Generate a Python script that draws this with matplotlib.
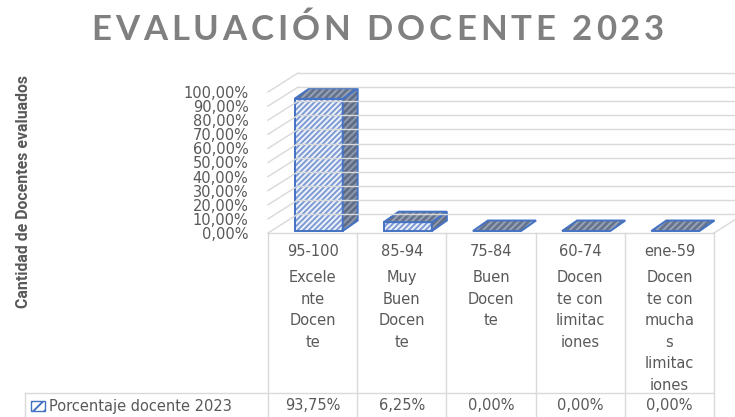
import matplotlib
matplotlib.use('Agg')
import matplotlib.pyplot as plt
from matplotlib.patches import Polygon
from matplotlib.lines import Line2D
from matplotlib.transforms import IdentityTransform
from matplotlib.font_manager import FontProperties
import numpy as np

W, H = 735, 417

rangos = ['95-100', '85-94', '75-84', '60-74', 'ene-59']
niveles = ['Excele\nnte\nDocen\nte',
           'Muy\nBuen\nDocen\nte',
           'Buen\nDocen\nte',
           'Docen\nte con\nlimitac\niones',
           'Docen\nte con\nmucha\ns\nlimitac\niones']
porcentaje = [0.9375, 0.0625, 0.0, 0.0, 0.0]
serie = 'Porcentaje docente 2023'
titulo = 'EVALUACIÓN DOCENTE 2023'
eje_y = 'Cantidad de Docentes evaluados'
yticks = np.arange(0, 1.001, 0.1)

GRIS = '#595959'
LINEA = '#d9d9d9'
AZUL = '#4472c4'

plt.rcParams['hatch.linewidth'] = 1.4


def pct(v):
    return f'{v * 100:.2f}%'.replace('.', ',')


def fxy(x, y):
    # pixel desde arriba-izquierda -> fraccion de figura
    return x / W, 1 - y / H


fig = plt.figure(figsize=(W / 100, H / 100), dpi=100)
rend = fig.canvas.get_renderer()
x0, y0 = fxy(268, 233)
x1, y1 = fxy(714, 92)
ax = fig.add_axes([x0, y0, x1 - x0, y1 - y0])
ax.set_xlim(-0.5, len(rangos) - 0.5)
ax.set_ylim(0, 1)
for s in ax.spines.values():
    s.set_visible(False)
ax.patch.set_visible(False)
ax.set_xticks([])
ax.set_yticks(yticks)
ax.set_yticklabels([pct(v) for v in yticks])
ax.tick_params(axis='y', length=0, pad=14, labelsize=10.5, labelcolor=GRIS)

ident = IdentityTransform()


def d(x, y):
    return ax.transData.transform((x, y))


def linea(xs, ys, color=LINEA, lw=1.0):
    ax.add_line(Line2D(xs, ys, transform=ident, color=color, lw=lw, clip_on=False))


def cara(pts, fc, hc, hatch='/////', lw=1.4):
    ax.add_patch(Polygon(pts, closed=True, transform=ident, facecolor=fc,
                         edgecolor=hc, lw=0, hatch=hatch, clip_on=False))
    ax.add_patch(Polygon(pts, closed=True, transform=ident, fill=False,
                         edgecolor=AZUL, lw=lw, joinstyle='miter', clip_on=False))


# paredes y piso (perspectiva)
DX, DY = 30, 19
xl, yb = d(-0.5, 0)
xr, _ = d(len(rangos) - 0.5, 0)
for v in yticks:
    _, yv = d(0, v)
    linea([xl, xl + DX], [yv, yv + DY])
    linea([xl + DX, xr + DX], [yv + DY, yv + DY])
linea([xl, xr], [yb, yb])
linea([xr, xr + DX], [yb, yb + DY])

# barras 3D
FX, FY = 6, 2
BX, BY = 15, 10.5
bw = 0.54
for i, v in enumerate(porcentaje):
    ax0, ab = d(i - bw / 2, 0)
    ax1, at = d(i + bw / 2, v)
    fx0, fx1 = ax0 + FX, ax1 + FX
    fb, ft = ab + FY, at + FY
    if v > 0:
        cara([(fx0, fb), (fx1, fb), (fx1, ft), (fx0, ft)], '#eef3fb', '#7d9ad3', '//////')
        cara([(fx1, fb), (fx1 + BX, fb + BY), (fx1 + BX, ft + BY), (fx1, ft)],
             '#5f6c85', '#8d98ad')
    cara([(fx0, ft), (fx1, ft), (fx1 + BX, ft + BY), (fx0 + BX, ft + BY)],
         '#66738c', '#97a2b6')

# tabla de datos
bordes = [d(i - 0.5, 0)[0] for i in range(len(rangos) + 1)]
for bx in bordes:
    linea([bx, bx], [H - 233, 0])
linea([25, xr], [H - 393, H - 393])
linea([25, 25], [H - 393, 0])

for i, (r, n, v) in enumerate(zip(rangos, niveles, porcentaje)):
    cx = d(i, 0)[0] / W
    fig.text(cx, 1 - 251 / H, r, ha='center', va='center', fontsize=10.5, color=GRIS)
    fig.text(cx, 1 - 270 / H, n, ha='center', va='top', fontsize=10.5, color=GRIS,
             linespacing=1.55)
    fig.text(cx, 1 - 406 / H, pct(v), ha='center', va='center', fontsize=10.5, color=GRIS)

# clave de leyenda
kx, ky = 31, H - 411
clave = [(kx, ky), (kx + 14, ky), (kx + 14, ky + 10), (kx, ky + 10)]
cara(clave, 'white', AZUL, '///', lw=1.0)
fig.text(49 / W, 1 - 406 / H, serie, ha='left', va='center', fontsize=10.5, color=GRIS)

# titulo con espaciado entre letras
tprop = FontProperties(family=['Lato', 'DejaVu Sans'], weight='bold', size=25)
anchos = [rend.get_text_width_height_descent(c, tprop, ismath=False)[0] for c in titulo]
t_ini, t_fin = 91, 664
extra = (t_fin - t_ini - sum(anchos)) / (len(titulo) - 1)
xpos = t_ini
for c, w in zip(titulo, anchos):
    fig.text(xpos / W, 1 - 30 / H, c, ha='left', va='center', fontproperties=tprop,
             color='#808080')
    xpos += w + extra

# etiqueta del eje y, ajustada al largo del original
yprop = FontProperties(family=['Roboto', 'DejaVu Sans'], weight='bold', size=12)
largo = rend.get_text_width_height_descent(eje_y, yprop, ismath=False)[0]
yprop.set_size(12 * 233 / largo)
fig.text(24 / W, 1 - 191 / H, eje_y, rotation=90, ha='center', va='center',
         fontproperties=yprop, color=GRIS)

fig.savefig('out.png', dpi=100)
